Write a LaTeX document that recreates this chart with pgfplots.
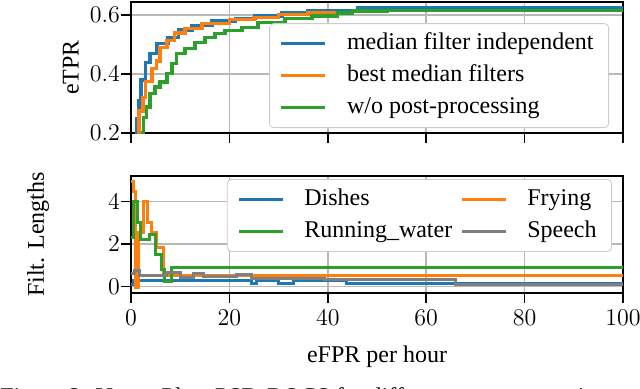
\documentclass[border=0pt]{standalone}
\usepackage{pgfplots}
\pgfplotsset{compat=1.18}
\usepackage[no-math]{fontspec}
\setmainfont{Liberation Serif}

\definecolor{tblue}{HTML}{1F77B4}
\definecolor{torange}{HTML}{FF7F0E}
\definecolor{tgreen}{HTML}{2CA02C}
\definecolor{tgray}{HTML}{7F7F7F}

\newcommand{\twelve}{\fontsize{12}{14}\selectfont}

\pgfplotsset{
  base/.style={
    scale only axis, width=246pt,
    xmin=0, xmax=100, xtick={0,20,...,100},
    grid=major, major grid style={black!28, line width=0.8pt},
    axis line style={line width=0.8pt},
    tick align=outside, tick pos=left, major tick length=5pt,
    tick style={black, line width=0.8pt},
    tick label style={font=\twelve},
    yticklabel style={xshift=3pt},
    label style={font=\twelve},
    legend cell align=left,
    legend image code/.code={\draw[##1] (0pt,0pt) -- (22pt,0pt);},
    legend style={font=\twelve, draw=black!20, rounded corners=2pt,
      inner xsep=5pt, inner ysep=2pt, row sep=0pt,
      nodes={inner xsep=2.5pt, inner ysep=2pt, text height=9pt, text depth=3pt},
      /tikz/every odd column/.style={column sep=7.5pt},
      /tikz/every even column/.style={column sep=1.5pt}},
    const plot,
  }
}

\begin{document}
\begin{tikzpicture}
\useasboundingbox (0,0) rectangle (320pt,-194pt);

% upper: eTPR vs eFPR
\begin{axis}[base,
  at={(65.5pt,-66.5pt)}, anchor=south west, height=65.5pt,
  ymin=0.2, ymax=0.645, ytick={0.2,0.4,0.6},
  xticklabels={},
  ylabel={eTPR},
  ylabel style={at={(axis description cs:-0.122,0.5)}, anchor=center},
  legend style={at={(axis description cs:1,0)}, anchor=south east, xshift=-7pt, yshift=2.5pt},
  every axis plot/.append style={line width=1.7pt},
]
\addplot[tblue] coordinates {
  (0.8,0.2) (1.2,0.25) (1.6,0.31) (2.0,0.38) (3.0,0.44) (3.9,0.47) (5.3,0.505)
  (7.5,0.525) (9.6,0.55) (12.4,0.565) (16.5,0.58) (21.3,0.59) (25.2,0.597)
  (30.7,0.607) (36,0.617) (46,0.624) (59,0.625) (100,0.625)};
\addplot[torange] coordinates {
  (1.4,0.2) (1.6,0.275) (2.4,0.32) (3.0,0.375) (4.3,0.42) (5.2,0.445) (5.9,0.49)
  (7.3,0.515) (8.9,0.54) (11,0.555) (14.4,0.573) (20,0.585) (25,0.593)
  (30,0.602) (36,0.61) (45,0.616) (100,0.617)};
\addplot[tgreen] coordinates {
  (2.0,0.2) (2.5,0.253) (3.2,0.288) (3.9,0.335) (4.9,0.356) (5.9,0.373)
  (7.3,0.403) (8.3,0.437) (9.3,0.471) (11,0.488) (13,0.508) (15,0.525)
  (17.1,0.539) (19.1,0.549) (22.6,0.559) (25.8,0.576) (31.3,0.59) (36.8,0.597)
  (42,0.607) (45,0.614) (52,0.617) (100,0.617)};
\legend{median filter independent, best median filters, w/o post-processing}
\end{axis}

% lower: filter lengths
\begin{axis}[base,
  at={(65.5pt,-146.5pt)}, anchor=south west, height=58.5pt,
  ymin=-0.3, ymax=5.2, ytick={0,2,4},
  ylabel={Filt. Lengths},
  ylabel style={at={(axis description cs:-0.189,0.5)}, anchor=center},
  xlabel={eFPR per hour},
  xlabel style={at={(axis description cs:0.5,0)}, anchor=base, yshift=-34.5pt},
  legend columns=2,
  legend style={at={(axis description cs:1,1)}, anchor=north east, xshift=-5.5pt, yshift=-1.5pt},
  every axis plot/.append style={line width=1.5pt},
]
\addplot[tblue] coordinates {
  (0,0.1) (0.5,0.3) (24.5,0.15) (25.5,0.3) (29.9,0.15) (33,0.3) (43.8,0.15)
  (66,0.15) (100,0.15)};
\addplot[torange] coordinates {
  (0,4.96) (0.47,4.49) (0.95,-0.06) (1.49,2.53) (2.5,4.02) (3.39,3.0)
  (4.2,2.53) (5.2,1.82) (6.57,0.53) (100,0.53)};
\addplot[tgreen] coordinates {
  (0,2.29) (0.47,4.02) (1.36,3.0) (1.83,2.21) (3.86,2.45) (4.88,1.5)
  (6.2,0.8) (6.9,0.25) (8.3,0.88) (100,0.88)};
\addplot[tgray] coordinates {
  (0,0.6) (0.8,0.78) (1.8,0.52) (7.25,0.65) (10,0.45) (12.7,0.6) (14.7,0.48)
  (21.5,0.55) (24.5,0.4) (39.4,0.33) (66,0.1) (100,0.1)};
\legend{Dishes, Frying, Running\_water, Speech}
\end{axis}

\node[anchor=base west, inner sep=0pt, font=\twelve] at (0pt,-202pt)
  {Figure 2: Upper Plot: PSD-ROCS for different post-processing methods.};
\end{tikzpicture}
\end{document}
